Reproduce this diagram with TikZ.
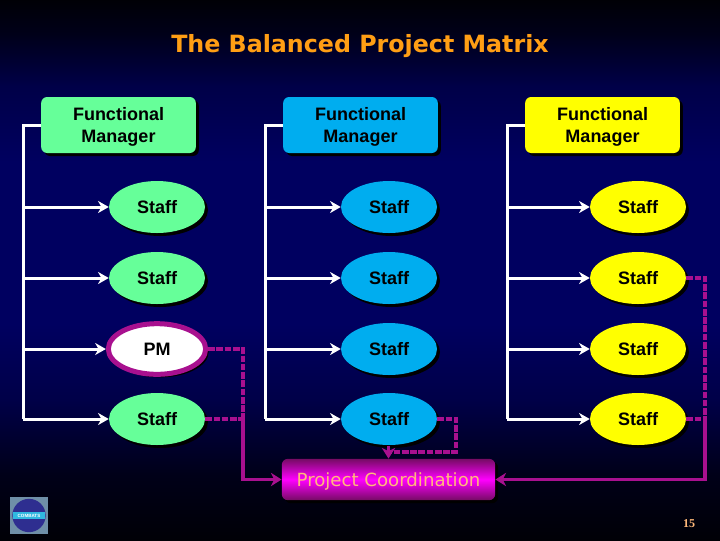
\documentclass[tikz,border=0pt]{standalone}
\usepackage{fontspec}
\setmainfont{Liberation Sans}
\newfontfamily\titlefont{DejaVu Sans}
\newfontfamily\numfont{Liberation Serif}
\usetikzlibrary{arrows.meta, positioning, shapes.geometric, shadows}

\definecolor{fmgreen}{HTML}{66FF99}
\definecolor{fmblue}{HTML}{00ADEF}
\definecolor{fmyellow}{HTML}{FFFF00}
\definecolor{coordline}{HTML}{A8108F}
\definecolor{navybg}{HTML}{000060}
\definecolor{midbg}{HTML}{000048}
\definecolor{lowbg}{HTML}{000018}
\definecolor{darkbg}{HTML}{000006}
\definecolor{titleorange}{HTML}{FF9E14}
\definecolor{coordtext}{HTML}{FFB97A}
\definecolor{logogray}{HTML}{6F8FA8}
\definecolor{logonavy}{HTML}{2E2E90}
\definecolor{logocyan}{HTML}{30B8E0}

\pgfdeclareverticalshading{slidebg}{100bp}{
    color(0bp)=(darkbg); color(25bp)=(darkbg); color(31bp)=(lowbg); color(38bp)=(midbg);
    color(45bp)=(navybg); color(60bp)=(navybg); color(67bp)=(midbg); color(72bp)=(lowbg);
    color(75bp)=(darkbg); color(100bp)=(darkbg)}

\begin{document}
\begin{tikzpicture}[
    x=0.75pt, y=-0.75pt,
    blk/.style={drop shadow={shadow xshift=2.25pt, shadow yshift=-2.25pt, fill=black, opacity=1}},
    mgr/.style={blk, rounded corners=4.5pt, minimum width=116pt, minimum height=42pt, text depth=-1.6pt,
                inner sep=0pt, align=center, font=\fontsize{13.5}{16.5}\selectfont\bfseries},
    staff/.style={blk, ellipse, minimum width=72pt, minimum height=39pt, inner sep=0pt,
                  font=\fontsize{13.5}{16.5}\selectfont\bfseries},
    pmstaff/.style={staff, draw=coordline, line width=3.75pt, fill=white,
                    minimum width=73pt, minimum height=38pt},
    coordbox/.style={blk, rounded corners=4.5pt, minimum width=160pt, minimum height=31pt, inner sep=0pt,
                     top color=coordline!70!black, bottom color=coordline!70!black, middle color=magenta,
                     text=coordtext, text depth=0pt, font=\titlefont\fontsize{13.6}{16}\selectfont},
    trunk/.style={white, line width=2.25pt},
    arr/.style={trunk, -{Stealth[length=8pt, width=9pt, inset=2.5pt]}},
    cdash/.style={coordline, line width=2.5pt, dash pattern=on 5pt off 1.2pt},
    csolid/.style={coordline, line width=2.5pt},
    carr/.style={csolid, -{Stealth[length=8pt, width=10pt, inset=2.5pt]}}
]
\useasboundingbox (0,0) rectangle (720,540);
\shade[shading=slidebg] (0,0) rectangle (720,540);

% ============================================================
% Title
% ============================================================
\node[text=titleorange, font=\titlefont\fontsize{17.8}{20}\selectfont\bfseries] (title) at (360, 46)
    {The Balanced Project Matrix};

% ============================================================
% Functional managers and staff, one column each
% ============================================================
\foreach \c/\mx/\sx/\tx/\col in {1/118.5/157/23/fmgreen, 2/360.5/389/265/fmblue, 3/602.5/638/507/fmyellow} {
    \node[mgr, fill=\col] (fm\c) at (\mx, 125) {Functional\\Manager};
    \foreach \r/\y in {1/207, 2/278, 3/349, 4/419} {
        \ifnum\c\r=13
            \node[pmstaff] (st\c\r) at (\sx, \y) {PM};
        \else
            \node[staff, fill=\col] (st\c\r) at (\sx, \y) {Staff};
        \fi
    }
    \coordinate (trunk\c) at (\tx, 419);
    \draw[trunk] (fm\c.west) -| (trunk\c);
    \foreach \r in {1,2,3,4} { \draw[arr] (st\c\r.west -| trunk\c) -- (st\c\r.west); }
}

% ============================================================
% Project coordination
% ============================================================
\node[coordbox] (pc) at (388.5, 479.5) {Project Coordination};

% left bus
\coordinate (lbtop) at (243, 349);
\coordinate (lbmid) at (243, 419);
\coordinate (lbend) at (243, 479.5);
\draw[cdash] (st13.east) -- (lbtop) -- (lbmid);
\draw[cdash] (st14.east) -- (lbmid);
\draw[carr] (lbmid) -- (lbend) -- (pc.west);

% right bus
\coordinate (rbtop) at (705, 278);
\coordinate (rbmid) at (705, 419);
\coordinate (rbend) at (705, 479.5);
\draw[cdash] (st32.east) -- (rbtop) -- (rbmid);
\draw[cdash] (st34.east) -- (rbmid);
\draw[carr] (rbmid) -- (rbend) -- (pc.east);

% middle loop
\coordinate (mla) at (456, 419);
\coordinate (mlb) at (456, 452);
\coordinate (mlc) at (388.5, 452);
\draw[cdash] (st24.east) -- (mla) -- (mlb) -- (mlc);
\draw[carr] (mlc) ++(0,-6) -- (pc.north);

% ============================================================
% Logo and page number
% ============================================================
\fill[logogray] (10, 497) rectangle (48, 534);
\node[circle, fill=logonavy, minimum size=25pt, inner sep=0pt] (logo) at (29, 515.5) {};
\node[fill=logocyan, minimum width=24pt, minimum height=5pt, inner sep=0pt,
      font=\bfseries\fontsize{3.4}{4}\selectfont, text=white] (logotxt) at (29, 515.5) {COMBATS};
\node[text=coordtext, font=\numfont\bfseries\fontsize{9}{10}\selectfont] (pagenum) at (689, 524) {15};

\end{tikzpicture}
\end{document}
